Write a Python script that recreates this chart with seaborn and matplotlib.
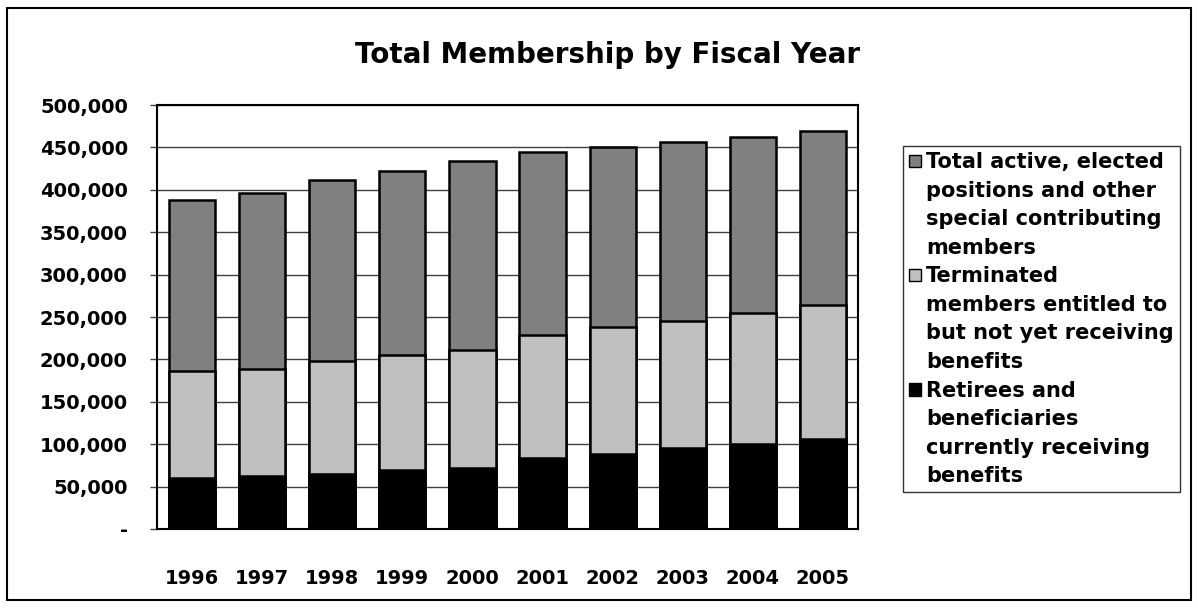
import numpy as np
import pandas as pd
import matplotlib.pyplot as plt
from matplotlib.patches import Rectangle
from matplotlib.ticker import FuncFormatter
import seaborn as sns

# Data
years = ['1996', '1997', '1998', '1999', '2000', '2001', '2002', '2003', '2004', '2005']
retirees = [60700, 63000, 65400, 70100, 72400, 84200, 89000, 96000, 100800, 105700]
terminated = [126000, 125700, 132300, 135100, 138300, 144600, 149600, 149300, 153900, 158400]
active = [201300, 207900, 213800, 217300, 223600, 215400, 212200, 210700, 207900, 205200]

labels = ['Total active, elected\npositions and other\nspecial contributing\nmembers',
          'Terminated\nmembers entitled to\nbut not yet receiving\nbenefits',
          'Retirees and\nbeneficiaries\ncurrently receiving\nbenefits']
colors = ['#808080', '#C0C0C0', '#000000']

df = pd.DataFrame({'year': years, 'retirees': retirees,
                   'terminated': terminated, 'active': active})
df['lower'] = df['retirees']
df['middle'] = df['retirees'] + df['terminated']
df['total'] = df['middle'] + df['active']

sns.set_style('white')
plt.rcParams['font.family'] = ['DejaVu Sans']
plt.rcParams['font.weight'] = 'bold'
plt.rcParams['text.color'] = 'black'
plt.rcParams['xtick.color'] = 'black'
plt.rcParams['ytick.color'] = 'black'

fig = plt.figure(figsize=(11.98, 6.08), dpi=100)
ax = fig.add_axes([157/1198, 1 - 529/608, (858-157)/1198, (529-105)/608])

# Draw stacked bars as overlapping cumulative bars
for col, c in zip(['total', 'middle', 'lower'], colors):
    sns.barplot(data=df, x='year', y=col, color=c, width=0.66,
                edgecolor='black', linewidth=1.8, saturation=1, ax=ax, zorder=3)

# Axes decoration
ax.set_xlim(-0.5, 9.5)
ax.set_ylim(0, 500000)
ax.set_yticks(np.arange(0, 500001, 50000))
ax.yaxis.set_major_formatter(FuncFormatter(lambda v, p: '-' if v == 0 else f'{int(v):,}'))
ax.yaxis.grid(True, color='#404040', linewidth=1, zorder=0)
ax.set_axisbelow(True)
ax.set_xlabel('')
ax.set_ylabel('')
ax.set_xticks(np.arange(10))
ax.set_xticklabels(years)
ax.set_xticks(np.arange(-0.5, 10, 1), minor=True)
ax.tick_params(axis='x', which='major', length=0, pad=29, labelsize=14)
ax.tick_params(axis='x', which='minor', length=6, width=1.2, direction='out', color='black')
ax.tick_params(axis='y', length=5, width=1, direction='out', color='#404040', pad=16,
               labelsize=14, left=True)
for s in ax.spines.values():
    s.set_visible(True)
    s.set_color('black')
    s.set_linewidth(1.5)

fig.text(608/1198, 1 - 55/608, 'Total Membership by Fiscal Year', ha='center', va='center',
         fontsize=20, fontweight='bold')

# Legend: one patch per series, continuation lines with invisible handles
handles, texts = [], []
for lab, c in zip(labels, colors):
    for i, line in enumerate(lab.split('\n')):
        if i == 0:
            handles.append(Rectangle((0, 0), 1, 1, facecolor=c, edgecolor='black', linewidth=1))
        else:
            handles.append(Rectangle((0, 0), 1, 1, alpha=0))
        texts.append(line)
leg = fig.legend(handles, texts, loc='upper left', bbox_to_anchor=(903/1198, 1 - 146/608),
                 frameon=True, fancybox=False, edgecolor='black', fontsize=15,
                 handlelength=0.56, handleheight=0.56, handletextpad=0.25,
                 labelspacing=0.41, borderpad=0.3, borderaxespad=0)
leg.get_frame().set_linewidth(1)

# Outer chart border
fig.patches.append(Rectangle((7/1198, 8/608), 1184/1198, 592/608, transform=fig.transFigure,
                             fill=False, edgecolor='black', linewidth=1.5))

fig.savefig('out.png', dpi=100)
